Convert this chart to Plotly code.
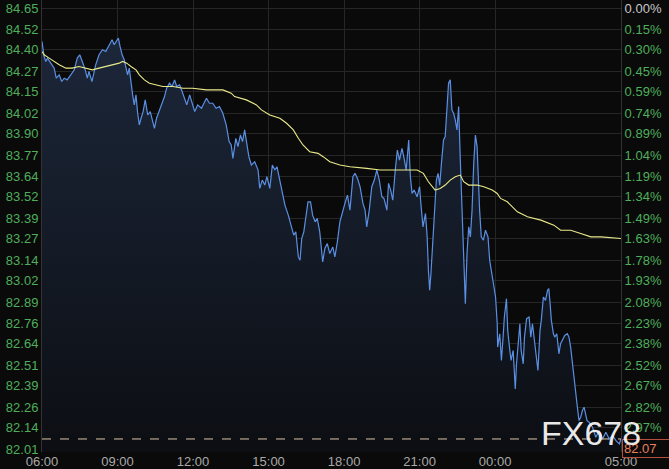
import plotly.graph_objects as go
from datetime import datetime, timedelta

# ---------------- data ----------------
price_times = [
    "06:00","06:05","06:09","06:13","06:21","06:29","06:34","06:41","06:47","06:53",
    "07:00","07:09","07:17","07:24","07:30","07:36","07:43","07:48","07:52","07:59",
    "08:04","08:08","08:16","08:24","08:32","08:40","08:47","08:52","08:58","09:02",
    "09:06","09:11","09:16","09:20","09:24","09:28","09:32","09:36","09:40","09:44",
    "09:48","09:52","09:56","10:01","10:06","10:12","10:18","10:24","10:28","10:33",
    "10:40","10:46","10:52","10:57","11:04","11:10","11:16","11:21","11:28","11:34",
    "11:40","11:45","11:52","11:58","12:04","12:11","12:20","12:32","12:39","12:47",
    "12:55","13:03","13:11","13:19","13:26","13:31","13:35","13:42","13:47","13:53",
    "13:58","14:03","14:07","14:13","14:19","14:27","14:35","14:39","14:45","14:51",
    "14:56","15:03","15:09","15:15","15:20","15:27","15:33","15:39","15:47","15:55",
    "16:00","16:05","16:11","16:15","16:19","16:24","16:29","16:34","16:40","16:45",
    "16:51","16:56","17:02","17:09","17:14","17:20","17:26","17:33","17:38","17:44",
    "17:50","17:57","18:02","18:08","18:14","18:21","18:26","18:32","18:38","18:45",
    "18:50","18:54","19:00","19:06","19:12","19:18","19:24","19:30","19:35","19:42",
    "19:46","19:51","19:56","20:02","20:07","20:12","20:18","20:23","20:28","20:34",
    "20:38","20:42","20:47","20:54","21:00","21:03","21:08","21:14","21:18","21:21",
    "21:24","21:27","21:32","21:36","21:40","21:44","21:48","21:52","21:57","22:01",
    "22:05","22:09","22:13","22:17","22:21","22:25","22:29","22:33","22:37","22:41",
    "22:45","22:49","22:53","22:57","23:01","23:05","23:09","23:13","23:17","23:20",
    "23:23","23:27","23:32","23:37","23:43","23:47","23:53","23:57","00:01","00:05",
    "00:06","00:11","00:15","00:19","00:22","00:27","00:30","00:35","00:38","00:43",
    "00:48","00:51","00:54","00:59","01:02","01:07","01:10","01:15","01:21","01:25",
    "01:29","01:34","01:39","01:42","01:47","01:50","01:55","02:00","02:05","02:08",
    "02:11","02:14","02:19","02:22","02:27","02:32","02:36","02:40","02:46","02:52",
    "02:56","03:00","03:04","03:08","03:12","03:16","03:20","03:24","03:28","03:32",
    "03:39","03:44","03:52","04:00","04:08","04:16","04:24","04:32","04:40","04:48",
    "04:56","05:00",
]
price_values = [
    84.45,84.36,84.33,84.35,84.32,84.29,84.23,84.25,84.21,84.23,
    84.22,84.25,84.28,84.35,84.37,84.33,84.28,84.23,84.27,84.21,
    84.27,84.31,84.37,84.40,84.39,84.43,84.46,84.43,84.45,84.47,
    84.42,84.37,84.34,84.29,84.25,84.29,84.19,84.13,84.07,84.13,
    84.02,83.95,83.99,84.03,84.10,84.01,84.03,83.97,83.93,83.99,
    84.04,84.07,84.12,84.17,84.20,84.18,84.22,84.18,84.19,84.15,
    84.10,84.07,84.13,84.08,84.03,84.07,84.05,84.11,84.08,84.08,
    84.05,84.06,84.02,83.95,83.85,83.83,83.75,83.87,83.82,83.89,
    83.85,83.92,83.85,83.76,83.71,83.73,83.68,83.57,83.62,83.59,
    83.64,83.57,83.71,83.68,83.70,83.61,83.53,83.47,83.41,83.33,
    83.29,83.31,83.16,83.14,83.27,83.31,83.39,83.49,83.49,83.41,
    83.37,83.39,83.31,83.13,83.21,83.24,83.18,83.22,83.16,83.25,
    83.37,83.44,83.48,83.53,83.44,83.64,83.66,83.63,83.58,83.48,
    83.44,83.34,83.44,83.58,83.62,83.68,83.62,83.52,83.51,83.44,
    83.60,83.56,83.50,83.68,83.80,83.74,83.81,83.75,83.68,83.86,
    83.64,83.54,83.56,83.52,83.58,83.48,83.34,83.42,83.28,83.08,
    82.96,83.06,83.28,83.44,83.62,83.66,83.59,83.72,83.86,83.88,
    84.08,84.20,84.22,84.04,84.02,83.98,83.92,84.06,83.74,83.44,
    83.24,82.88,83.18,83.34,83.28,83.44,83.72,83.89,83.82,83.58,
    83.44,83.28,83.26,83.32,83.28,83.14,83.04,83.00,82.92,82.76,
    82.62,82.70,82.54,82.68,82.80,82.91,82.72,82.60,82.54,82.60,
    82.37,82.52,82.62,82.76,82.60,82.52,82.68,82.79,82.80,82.68,
    82.76,82.66,82.56,82.48,82.72,82.78,82.92,82.90,82.96,82.97,
    82.88,82.78,82.70,82.68,82.70,82.58,82.64,82.66,82.69,82.70,
    82.68,82.62,82.52,82.42,82.34,82.26,82.18,82.20,82.24,82.26,
    82.18,82.17,82.14,82.08,82.12,82.07,82.11,82.07,82.09,82.06,
    82.04,82.07,
]

avg_times = [
    "06:00","06:05","06:17","06:29","06:41","06:57","07:12","07:28","07:45","08:00",
    "08:16","08:32","08:48","09:04","09:12","09:22","09:32","09:44","09:52","10:04",
    "10:16","10:32","10:48","11:12","11:36","11:59","12:32","13:11","13:31","13:39",
    "14:07","14:31","14:43","15:03","15:27","15:43","15:59","16:11","16:22","16:38",
    "16:58","17:10","17:26","17:50","18:14","18:54","19:26","19:58","20:30","20:54",
    "21:09","21:21","21:37","21:49","22:01","22:13","22:25","22:37","22:45","22:57",
    "23:17","23:33","23:53","00:05","00:13","00:29","00:53","01:17","01:49","02:20",
    "02:36","03:00","03:24","03:48","04:12","05:00",
]
avg_values = [
    84.39,84.37,84.35,84.33,84.31,84.29,84.29,84.30,84.29,84.28,
    84.29,84.30,84.31,84.32,84.33,84.32,84.30,84.28,84.25,84.22,
    84.20,84.19,84.18,84.18,84.17,84.17,84.16,84.16,84.14,84.12,
    84.10,84.07,84.04,84.01,83.99,83.96,83.92,83.87,83.83,83.79,
    83.78,83.76,83.73,83.71,83.70,83.69,83.68,83.68,83.68,83.68,
    83.66,83.61,83.56,83.57,83.59,83.62,83.64,83.65,83.61,83.59,
    83.59,83.58,83.56,83.54,83.51,83.49,83.43,83.40,83.38,83.35,
    83.32,83.32,83.30,83.28,83.28,83.27,
]

price_ticks = ["84.65","84.52","84.40","84.27","84.15","84.02","83.90","83.77","83.64","83.52","83.39",
               "83.27","83.14","83.02","82.89","82.76","82.64","82.51","82.39","82.26","82.14","82.01"]
pct_ticks = ["0.00%","0.15%","0.30%","0.45%","0.59%","0.74%","0.89%","1.04%","1.19%","1.34%","1.49%",
             "1.63%","1.78%","1.93%","2.08%","2.23%","2.38%","2.52%","2.67%","2.82%","2.97%","3.12%"]
time_ticks = ["06:00","09:00","12:00","15:00","18:00","21:00","00:00","05:00"]
last_price = 82.07

# ---------------- helpers ----------------
base = datetime(2024, 1, 1)

def to_dt(hhmm):
    h, m = map(int, hhmm.split(":"))
    d = base + timedelta(hours=h, minutes=m)
    if h < 6:
        d += timedelta(days=1)
    return d

px = [to_dt(t) for t in price_times]
ax = [to_dt(t) for t in avg_times]
tx = [to_dt(t) for t in time_ticks]

BG = "#0a0a0a"
GRID = "#262626"
GREEN = "#4fae5c"
FONT = "Liberation Sans, Arial"
yr = [81.992, 84.698]

fig = go.Figure()
fig.add_trace(go.Scatter(
    x=px, y=price_values, mode="lines",
    line=dict(color="#5b8fe3", width=1.2),
    fill="tozeroy",
    fillgradient=dict(type="vertical", start=82.0, stop=84.5,
                      colorscale=[[0, "#0c0e13"], [1, "#1c273a"]]),
    hoverinfo="skip", showlegend=False,
))
fig.add_trace(go.Scatter(
    x=ax, y=avg_values, mode="lines", yaxis="y2",
    line=dict(color="#eaea8a", width=1.1),
    hoverinfo="skip", showlegend=False,
))

fig.add_shape(type="line", xref="paper", x0=0, x1=1, yref="y", y0=last_price, y1=last_price,
              line=dict(color="#d9c4a8", width=1, dash="dash"))

fig.add_annotation(xref="paper", x=1, xanchor="left", xshift=1, yref="y", y=last_price,
                   yanchor="top", text=str(last_price), showarrow=False,
                   font=dict(color="#e8805f", size=13, family=FONT),
                   bgcolor=BG, bordercolor="#b5503f", borderwidth=1, borderpad=1,
                   width=52, align="left")

fig.add_annotation(xref="paper", x=0.948, xanchor="center", yref="paper", y=0.042,
                   yanchor="middle", text="FX678",
                   showarrow=False, font=dict(color="rgba(255,255,255,0.92)", size=34,
                                              family=FONT))

pct_text = [f'<span style="color:#c8c8c8">{pct_ticks[0]}</span>'] + pct_ticks[1:]

fig.update_layout(
    width=669, height=469,
    margin=dict(l=42, r=48, t=0, b=17, autoexpand=False),
    paper_bgcolor=BG, plot_bgcolor=BG,
    font=dict(family=FONT, size=13),
    xaxis=dict(type="date", range=[tx[0], tx[-1]], tickvals=tx, ticktext=time_ticks,
               showgrid=True, gridcolor=GRID, gridwidth=1, zeroline=False, automargin=False,
               tickfont=dict(color="#a9a9a9", size=13), showline=False, ticks=""),
    yaxis=dict(range=yr, tickvals=[float(v) for v in price_ticks], ticktext=price_ticks,
               showgrid=True, gridcolor=GRID, gridwidth=1, zeroline=False, automargin=False,
               tickfont=dict(color=GREEN, size=13), showline=True, linecolor="#333333",
               ticks=""),
    yaxis2=dict(range=yr, overlaying="y", side="right", automargin=False,
                tickvals=[float(v) for v in price_ticks], ticktext=pct_text,
                showgrid=False, zeroline=False, tickfont=dict(color=GREEN, size=13),
                showline=True, linecolor="#333333", ticks=""),
)

fig.write_html("out.html", config={"displayModeBar": False},
               post_script="document.body.style.margin='0';document.body.style.background='#0a0a0a';")
